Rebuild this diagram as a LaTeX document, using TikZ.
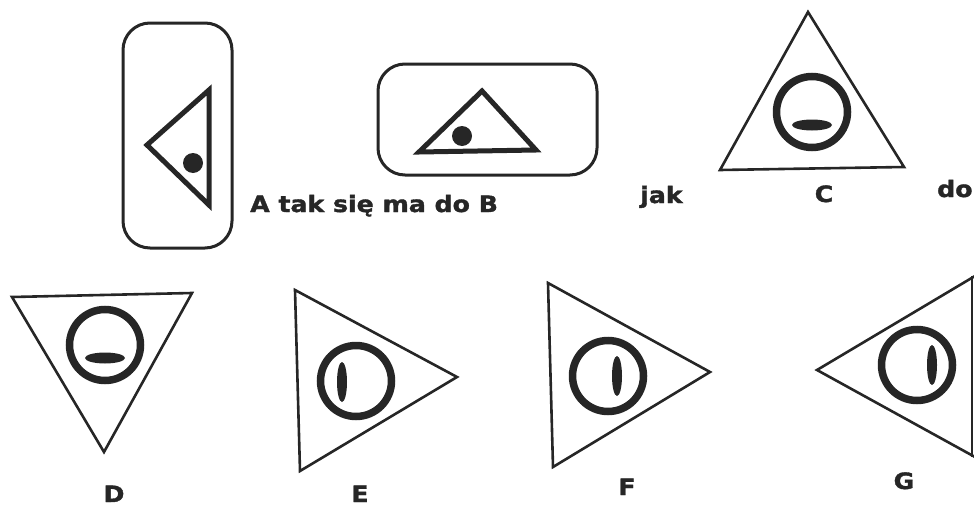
\documentclass[tikz,border=0pt]{standalone}
\usepackage{fontspec}
\newfontfamily\lblfont[FakeStretch=1.12,FakeBold=1.6]{DejaVu Sans}
\begin{document}
\begin{tikzpicture}[x=1pt,y=-1pt,
  ink/.style={draw=black!85},
  framebox/.style={ink,line width=3pt,rounded corners=27pt},
  heavytri/.style={ink,line width=5pt,line join=miter},
  thintri/.style={ink,line width=2.6pt,line join=miter},
  eyering/.style={ink,line width=7.5pt},
  pupil/.style={fill=black!85},
  dot/.style={fill=black!85},
  lbl/.style={inner sep=0pt,font=\lblfont\bfseries\fontsize{22.5}{24}\selectfont,text=black!85}]
\useasboundingbox (0,0) rectangle (974,506);
% A
\draw[framebox] (123,23) rectangle (232,248);
\draw[heavytri] (147,145) -- (209,90) -- (209,205) -- cycle;
\fill[dot] (193,163) circle (10);
% B
\draw[framebox] (378,64) rectangle (597,175);
\draw[heavytri] (419,152) -- (482,91) -- (536,150) -- cycle;
\fill[dot] (462,136) circle (10);
% texts top
\node[lbl,anchor=base west] (tAB) at (250,212) {A tak się ma do B};
\node[lbl,anchor=base west] (tjak) at (640,203) {jak};
\node[lbl,anchor=base] (tC) at (824,202) {C};
\node[lbl,anchor=base west] (tdo) at (937,197) {do};
% C
\draw[thintri] (808,12) -- (904,167) -- (720,170) -- cycle;
\draw[eyering] (812,112) circle (35.5);
\fill[pupil] (812,125) ellipse (20 and 5.5);
% D
\draw[thintri] (12,297) -- (192,293) -- (104,452) -- cycle;
\draw[eyering] (105,345) circle (35.5);
\fill[pupil] (105,358) ellipse (20 and 5.5);
\node[lbl,anchor=base] (tD) at (114,502) {D};
% E
\draw[thintri] (295,290) -- (457,377) -- (300,471) -- cycle;
\draw[eyering] (356,381) circle (35.5);
\fill[pupil] (342,382) ellipse (5 and 20);
\node[lbl,anchor=base] (tE) at (360,502) {E};
% F
\draw[thintri] (548,283) -- (710,372) -- (553,467) -- cycle;
\draw[eyering] (608,376) circle (35.5);
\fill[pupil] (617,376) ellipse (5 and 20);
\node[lbl,anchor=base] (tF) at (627,495) {F};
% G
\draw[thintri] (975,276) -- (817,370) -- (975,457);
\draw[thintri] (972,276) -- (972,457);
\draw[eyering] (917,365) circle (35.5);
\fill[pupil] (932,365) ellipse (5 and 20);
\node[lbl,anchor=base] (tG) at (904,489) {G};
\end{tikzpicture}
\end{document}
